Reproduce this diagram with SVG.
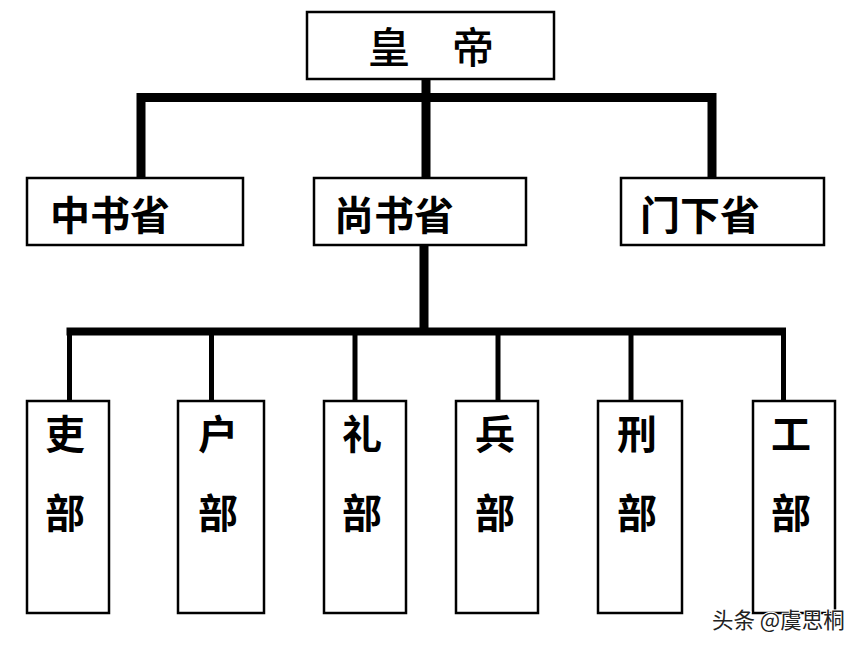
<svg xmlns="http://www.w3.org/2000/svg" width="867" height="649" viewBox="0 0 867 649">
<style>
.box{fill:#fff;stroke:#000;stroke-width:2.5}
.t{font-family:"Noto Sans CJK SC","Noto Sans CJK TC",sans-serif;font-weight:700;fill:#000;dominant-baseline:central}
.thick{stroke:#000;stroke-width:9;fill:none;stroke-linejoin:miter}
.thin{stroke:#000;stroke-width:5;fill:none}
.wm{font-family:"Noto Sans CJK SC",sans-serif;font-size:21.5px;fill:#222;stroke:#fff;stroke-width:2;paint-order:stroke;dominant-baseline:central}
</style>
<rect width="867" height="649" fill="#fff"/>
<g id="connectors">
<line class="thick" x1="426" y1="79" x2="426" y2="178"/>
<polyline class="thick" points="141,178 141,97.5 712,97.5 712,178"/>
<line class="thick" x1="424" y1="245" x2="424" y2="331"/>
<line stroke="#000" stroke-width="8" x1="66.5" y1="331.5" x2="786" y2="331.5"/>
<line class="thin" x1="69.5" y1="331" x2="69.5" y2="401"/>
<line class="thin" x1="211.5" y1="331" x2="211.5" y2="401"/>
<line class="thin" x1="355" y1="331" x2="355" y2="401"/>
<line class="thin" x1="498" y1="331" x2="498" y2="401"/>
<line class="thin" x1="631" y1="331" x2="631" y2="401"/>
<line class="thin" x1="783.5" y1="331" x2="783.5" y2="401"/>
</g>
<g id="emperor">
<rect class="box" x="307" y="12" width="247" height="67"/>
<text class="t" x="431" y="44" font-size="42" text-anchor="middle" style="font-weight:500">皇　帝</text>
</g>
<g id="zhongshu">
<rect class="box" x="27" y="178" width="216" height="67"/>
<text class="t" x="50" y="213" font-size="40">中书省</text>
</g>
<g id="shangshu">
<rect class="box" x="314" y="178" width="212" height="67"/>
<text class="t" x="334" y="213" font-size="40">尚书省</text>
</g>
<g id="menxia">
<rect class="box" x="621" y="178" width="203" height="67"/>
<text class="t" x="640" y="213" font-size="40">门下省</text>
</g>
<g id="li-bu">
<rect class="box" x="27" y="401" width="82" height="212"/>
<text class="t" x="65" y="432" font-size="40" text-anchor="middle">吏</text>
<text class="t" x="65" y="511" font-size="40" text-anchor="middle">部</text>
</g>
<g id="hu-bu">
<rect class="box" x="178" y="401" width="86" height="212"/>
<text class="t" x="218" y="432" font-size="40" text-anchor="middle">户</text>
<text class="t" x="218" y="511" font-size="40" text-anchor="middle">部</text>
</g>
<g id="li-bu2">
<rect class="box" x="324" y="401" width="82" height="212"/>
<text class="t" x="362" y="432" font-size="40" text-anchor="middle">礼</text>
<text class="t" x="362" y="511" font-size="40" text-anchor="middle">部</text>
</g>
<g id="bing-bu">
<rect class="box" x="456" y="401" width="82" height="212"/>
<text class="t" x="495" y="432" font-size="40" text-anchor="middle">兵</text>
<text class="t" x="495" y="511" font-size="40" text-anchor="middle">部</text>
</g>
<g id="xing-bu">
<rect class="box" x="598" y="401" width="84" height="212"/>
<text class="t" x="637" y="432" font-size="40" text-anchor="middle">刑</text>
<text class="t" x="637" y="511" font-size="40" text-anchor="middle">部</text>
</g>
<g id="gong-bu">
<rect class="box" x="753" y="401" width="82" height="212"/>
<text class="t" x="791" y="432" font-size="40" text-anchor="middle">工</text>
<text class="t" x="791" y="511" font-size="40" text-anchor="middle">部</text>
</g>
<text class="wm" x="712" y="618">头条 @虞思桐</text>
</svg>
